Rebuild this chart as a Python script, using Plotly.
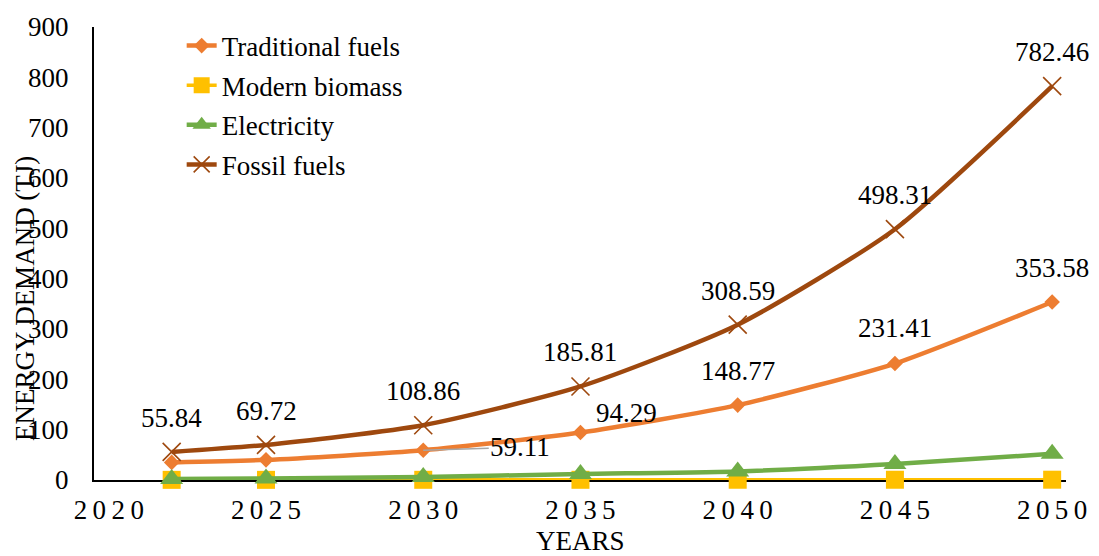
import plotly.graph_objects as go

# Energy demand projections (TJ)
years = [2022, 2025, 2030, 2035, 2040, 2045, 2050]
traditional_fuels = [35.0, 40.0, 59.11, 94.29, 148.77, 231.41, 353.58]
modern_biomass = [0.3, 0.3, 0.4, 0.4, 0.5, 0.5, 0.6]
electricity = [2.0, 3.0, 6.0, 12.0, 17.0, 32.0, 52.0]
fossil_fuels = [55.84, 69.72, 108.86, 185.81, 308.59, 498.31, 782.46]

x_tick_values = [2020, 2025, 2030, 2035, 2040, 2045, 2050]
y_tick_values = [0, 100, 200, 300, 400, 500, 600, 700, 800, 900]

FONT = "Liberation Serif"
FS = 27

series = [
    ("Traditional fuels", traditional_fuels, "#ED7D31", "diamond", 12, 4.5, {}),
    ("Modern biomass", modern_biomass, "#FFC000", "square", 18, 3.5, {}),
    ("Electricity", electricity, "#70AD47", "triangle-up", 20, 4.5, {}),
    ("Fossil fuels", fossil_fuels, "#9E480E", "x-thin", 18, 4.5,
     {"line": {"width": 1.6, "color": "#9E480E"}}),
]

fig = go.Figure()
for name, vals, color, symbol, msize, lw, extra in series:
    marker = dict(symbol=symbol, size=msize, color=color, **extra)
    fig.add_trace(go.Scatter(
        x=years, y=vals, name=name, legendgroup=name,
        mode="lines+markers", cliponaxis=False,
        line=dict(color=color, width=lw, shape="spline", smoothing=0.6),
        marker=marker,
    ))

# value labels: (series values, index, x offset px, y offset px, leader line)
label_specs = [(fossil_fuels, i, 0, 34, False) for i in range(len(years))]
label_specs += [
    (traditional_fuels, 2, 97, 3, True),
    (traditional_fuels, 3, 46, 20, False),
    (traditional_fuels, 4, 0, 34, False),
    (traditional_fuels, 5, 0, 36, False),
    (traditional_fuels, 6, 0, 34, False),
]

annotations = []
for vals, i, dx, dy, leader in label_specs:
    txt = f"{vals[i]:.2f}"
    if leader:
        annotations.append(dict(
            x=years[i], y=vals[i], xref="x", yref="y", text=txt,
            showarrow=True, arrowhead=0, arrowwidth=1.5, arrowcolor="#A6A6A6",
            ax=dx, ay=-dy, standoff=0,
            font=dict(family=FONT, size=FS, color="black"),
        ))
    else:
        annotations.append(dict(
            x=years[i], y=vals[i], xref="x", yref="y", text=txt,
            showarrow=False, xshift=dx, yshift=dy,
            xanchor="center", yanchor="middle",
            font=dict(family=FONT, size=FS, color="black"),
        ))

# axis titles
annotations.append(dict(
    text="ENERGY DEMAND (TJ)", textangle=-90, xref="paper", yref="paper",
    x=-0.0717, y=0.400, xanchor="center", yanchor="middle", showarrow=False,
    font=dict(family=FONT, size=FS, color="black"),
))
annotations.append(dict(
    text="YEARS", xref="paper", yref="paper",
    x=0.5, y=-0.134, xanchor="center", yanchor="middle", showarrow=False,
    font=dict(family=FONT, size=FS, color="black"),
))

fig.update_layout(
    width=1099, height=556,
    margin=dict(l=94, r=29, t=24, b=76, pad=0),
    paper_bgcolor="white", plot_bgcolor="white",
    font=dict(family=FONT, size=FS, color="black"),
    showlegend=True,
    legend=dict(
        x=0.0902, y=1.012, xanchor="left", yanchor="top",
        bgcolor="rgba(0,0,0,0)", borderwidth=0,
        traceorder="grouped", tracegroupgap=1.5,
        font=dict(family=FONT, size=FS, color="black"),
    ),
    annotations=annotations,
)

fig.update_xaxes(
    range=[2019.53, 2050.44],
    tickmode="array", tickvals=x_tick_values,
    ticktext=["\u2009".join(str(v)) for v in x_tick_values],
    showgrid=False, zeroline=False,
    showline=True, linecolor="black", linewidth=2,
    layer="below traces",
    ticks="", ticklabelstandoff=5,
    tickfont=dict(family=FONT, size=FS, color="black"),
)
fig.update_yaxes(
    range=[0, 900],
    tickmode="array", tickvals=y_tick_values,
    showgrid=False, zeroline=False,
    showline=True, linecolor="black", linewidth=2,
    layer="below traces",
    ticks="", ticklabelstandoff=18,
    tickfont=dict(family=FONT, size=FS, color="black"),
)

fig.write_html("out.html")
